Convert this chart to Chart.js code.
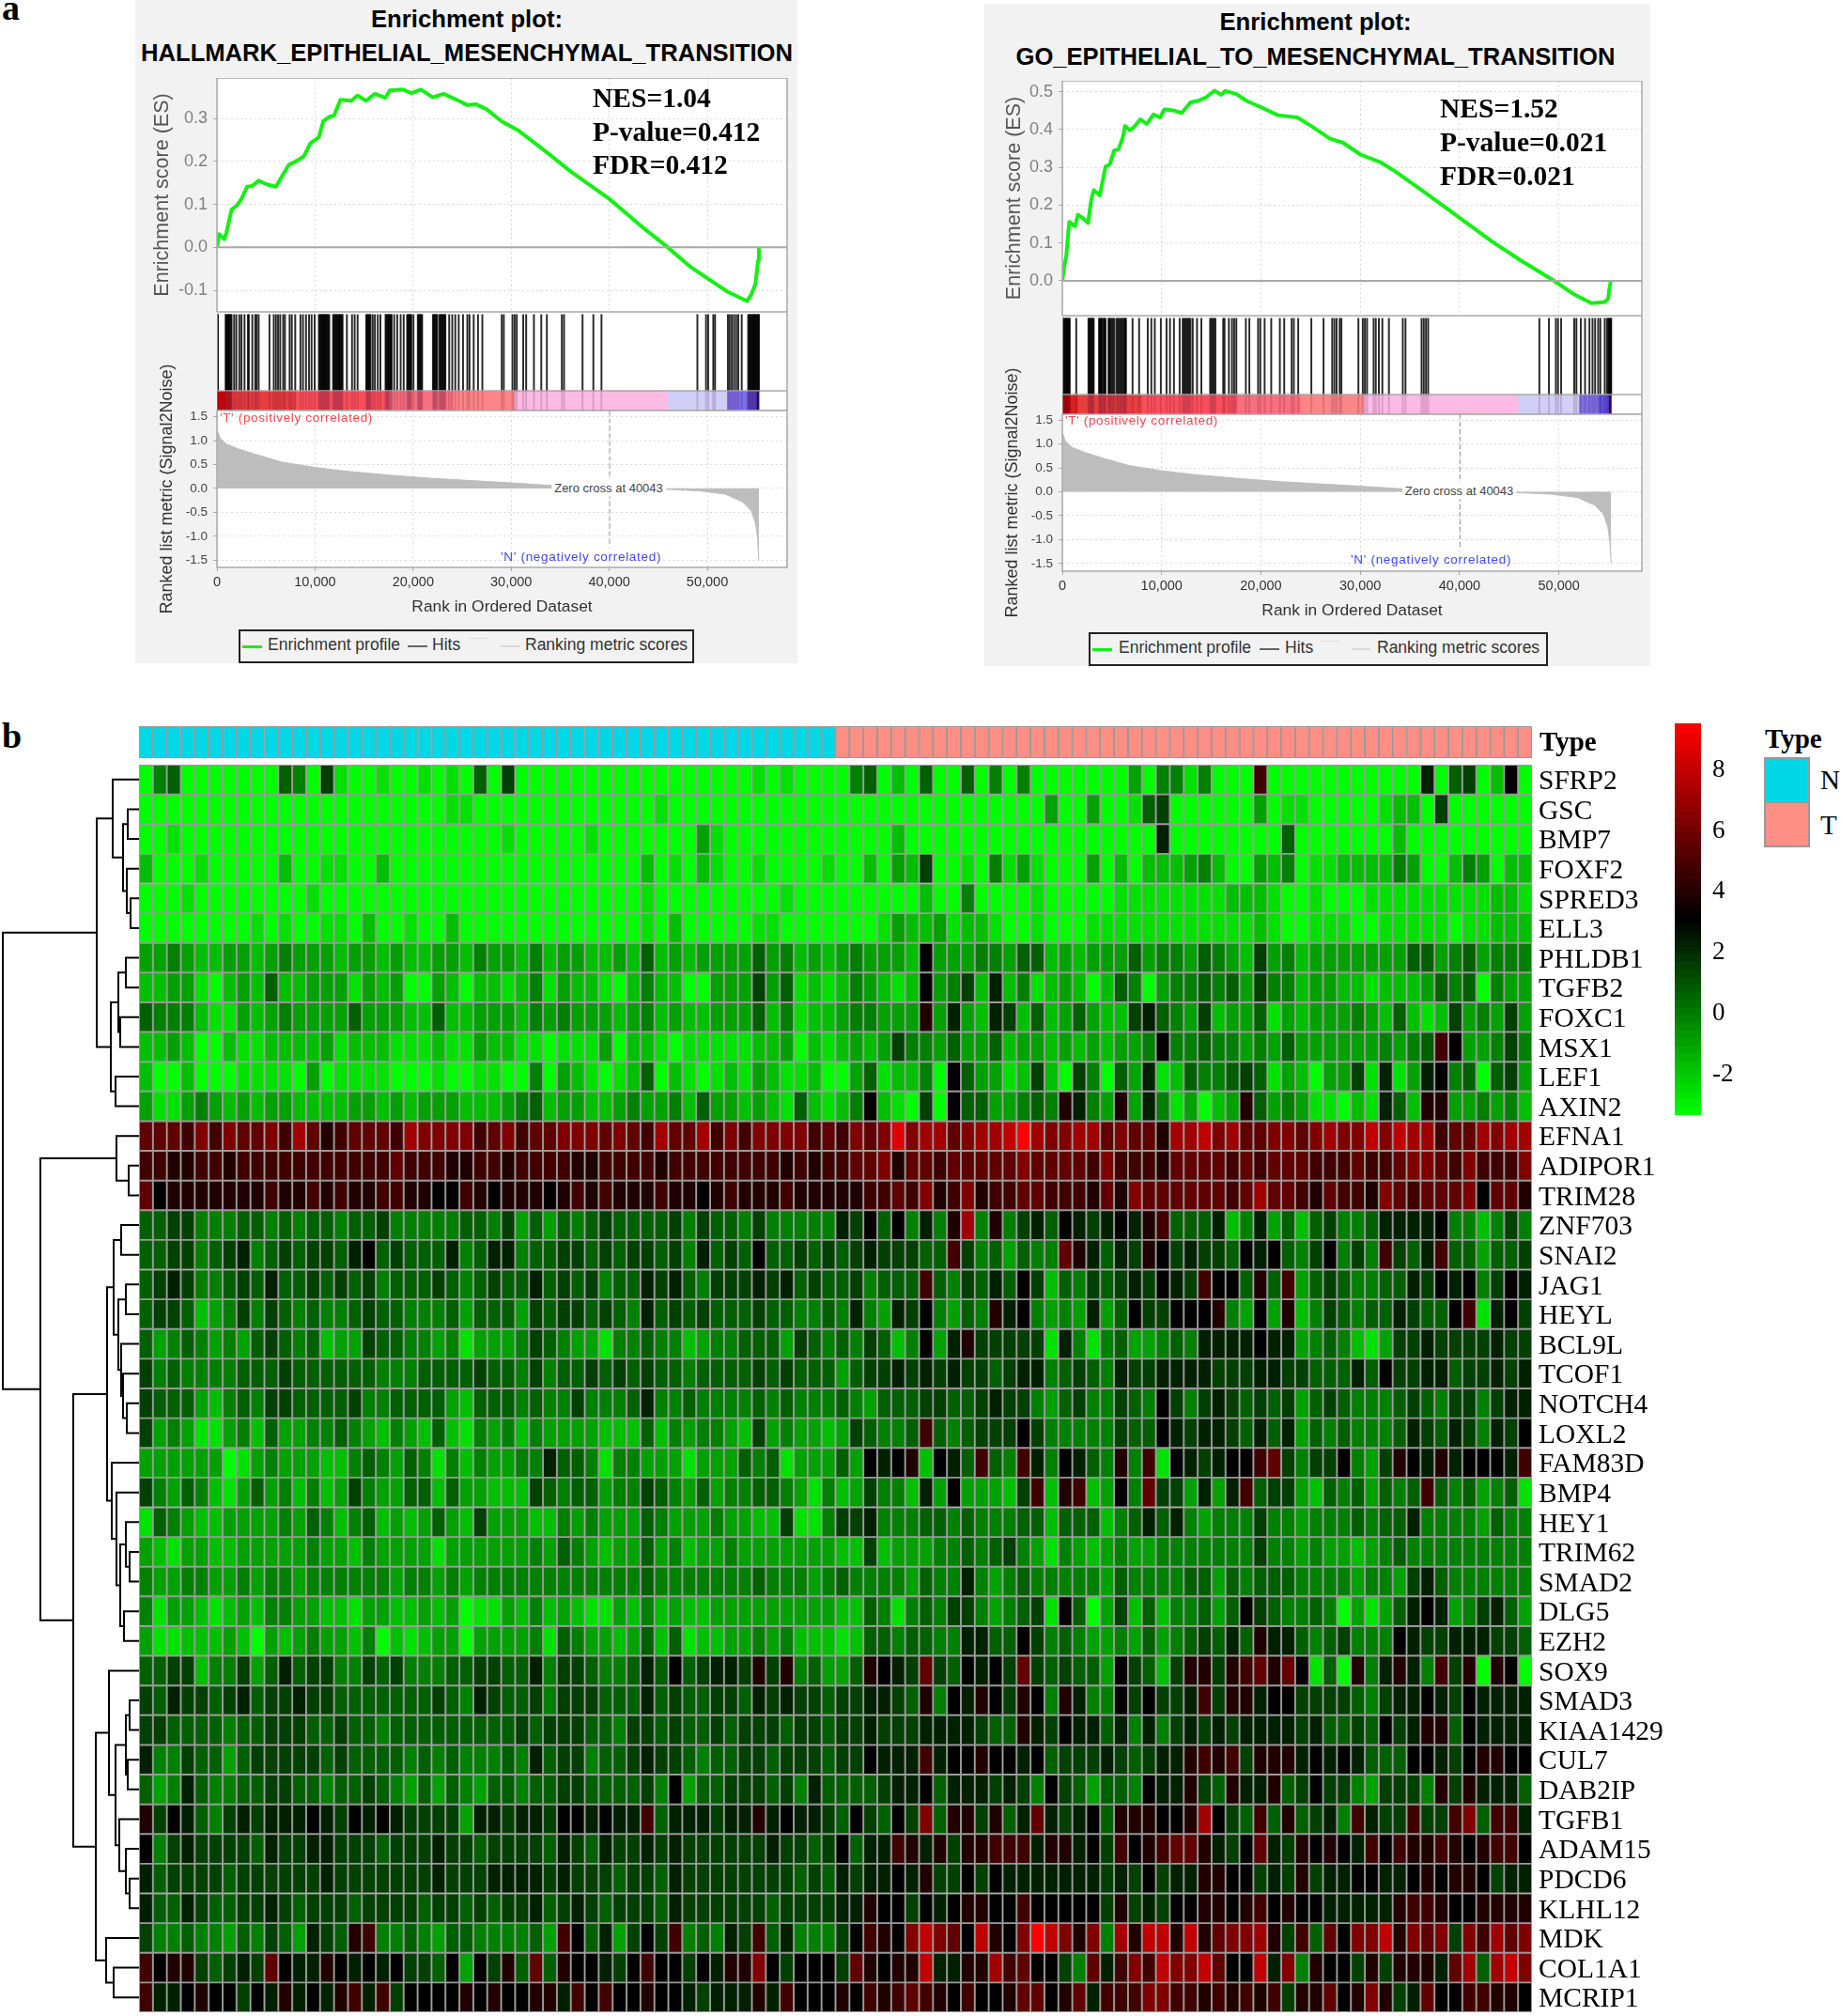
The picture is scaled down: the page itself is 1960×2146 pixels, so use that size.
<!DOCTYPE html>
<html><head><meta charset="utf-8">
<script src="https://cdn.jsdelivr.net/npm/chart.js@4/dist/chart.umd.min.js"></script>
<style>
html,body{margin:0;padding:0;background:#fff}
#page{position:relative;width:1960px;height:2146px;overflow:hidden;background:#fff}
canvas{position:absolute;display:block}
.t{position:absolute;white-space:nowrap;line-height:1}
</style></head><body><div id="page"></div>
<script>
/* ---------- panel a: GSEA values ---------- */
const rankTicks=[0,10000,20000,30000,40000,50000];
const esRanksA=[0,220,750,960,1490,2060,2500,3070,3600,4250,5130,6010,6670,7320,8200,8860,9520,10390,10830,11490,11930,12590,13680,14340,15220,16100,17190,17630,18950,19820,20790,22020,23110,24650,25530,26400,27500,29040,30790,33420,36050,40000,43070,45920,48330,50530,52060,54040,54470,54910,55180,55260];
const esValuesA=[0,.031,.019,.034,.088,.098,.113,.141,.143,.155,.146,.141,.167,.192,.202,.212,.242,.256,.293,.304,.306,.343,.341,.353,.341,.357,.348,.365,.367,.359,.367,.349,.357,.341,.331,.333,.321,.293,.271,.225,.177,.113,.053,.001,-.046,-.080,-.103,-.125,-.110,-.085,-.031,0];
const esRanksB=[0,176,395,615,702,1273,1580,2151,2590,2897,3161,3775,4346,4785,5224,5663,6102,6321,6760,7200,7858,8516,9175,9833,10272,11150,12028,12906,13784,14442,15320,15979,16418,17515,18613,19930,21686,23661,25197,26954,28270,30026,32000,33538,36172,39684,43196,46269,49342,51536,53292,54610,54960,55050,55224];
const esValuesB=[0,.037,.065,.133,.156,.144,.175,.164,.153,.212,.240,.226,.302,.308,.345,.348,.381,.410,.398,.406,.427,.415,.440,.432,.453,.451,.444,.472,.477,.485,.503,.492,.502,.494,.475,.460,.438,.432,.407,.376,.365,.334,.314,.289,.240,.173,.105,.052,.003,-.036,-.059,-.056,-.047,-.025,0];
const hitsA=[50,100,880,960,1050,1140,1230,1320,1400,1490,1750,1970,2280,2500,2810,3160,3250,3600,3900,4040,4250,5350,5790,6010,6230,6450,6750,6930,7410,7630,7980,8510,8770,9080,9390,9650,9960,10390,10480,10570,10660,10740,10830,10920,11010,11100,11180,11270,11360,11450,11840,11930,12020,12110,12190,12280,12370,12460,12540,12630,12720,12810,13250,13770,14040,14340,15220,15310,15400,15480,15570,15660,15880,16100,16400,16670,17190,17280,17370,17450,17540,17630,17720,17810,18070,18380,18730,19040,19390,19480,19570,19650,19740,19820,20040,20480,20570,20660,20750,20840,20920,22020,22110,22190,22280,22370,22460,22680,22770,22860,22940,23030,23120,23210,23290,23680,23990,24300,24650,25090,25530,25750,26180,26620,27060,29040,29250,30130,30350,30570,31230,31530,32320,33070,33640,35170,35390,37280,38380,39210,48990,49870,50090,50610,50790,52100,52280,52500,52720,52940,53160,53510,54170,54260,54340,54430,54520,54610,54700,54780,54870,54960,55050,55140,55220,55260];
const hitsB=[40,130,220,310,400,480,570,660,750,1400,2630,2720,2810,2900,2990,3070,3160,3690,3780,3860,3950,4040,4170,4260,4350,4650,4740,4830,4960,5090,5220,5440,5580,5710,5840,5970,6100,6230,6320,6410,7070,7730,8600,8960,9310,9920,10490,10840,11240,11810,12120,12250,12380,12510,12640,12770,12910,13130,13560,14000,14880,15010,15140,15280,15410,16200,16330,16770,17080,17300,17520,18480,18830,19710,19930,20370,21030,21900,22340,23090,23310,23750,25070,26300,27170,27390,27610,27920,28100,29810,30250,30460,30680,31340,31560,31870,32220,32880,34280,34550,36170,36390,36610,36830,48030,48990,49690,49910,50220,51540,51760,52200,52630,53070,53380,53640,53950,54170,54610,54830,54960,55050,55140,55220,55260];
const metricRanks=[0,300,960,2280,4470,6670,9960,13250,17630,22020,26400,30790,35170,40043,46140,49210,51840,53600,54470,54910,55130,55260];
const metricValues=[1.24,1.06,.93,.82,.68,.55,.44,.36,.28,.21,.16,.107,.05,0,-.02,-.05,-.12,-.28,-.46,-.72,-1.04,-1.5];
const stripEnds=[800,1500,8000,17500,24000,30300,45900,52000,54000,55000,55260];
const stripColors=['#c80000','#d82020','#e53e3e','#f8505a','#f8707e','#fc8686','#fbbbe3','#d0cff7','#7d70ea','#5a4fdf','#1c0aa0'];

/* ---------- panel b: heatmap values ---------- */
const genes=['SFRP2','GSC','BMP7','FOXF2','SPRED3','ELL3','PHLDB1','TGFB2','FOXC1','MSX1','LEF1','AXIN2','EFNA1','ADIPOR1','TRIM28','ZNF703','SNAI2','JAG1','HEYL','BCL9L','TCOF1','NOTCH4','LOXL2','FAM83D','BMP4','HEY1','TRIM62','SMAD2','DLG5','EZH2','SOX9','SMAD3','KIAA1429','CUL7','DAB2IP','TGFB1','ADAM15','PDCD6','KLHL12','MDK','COL1A1','MCRIP1'];
/* each letter is one read cell, decoded by levelValues */
const levelValues={a:-3.3,b:-2.6,c:-1.75,d:-1,e:-.15,f:.65,g:1.45,h:2.25,i:3.07,j:3.9,k:4.7,l:5.5,m:6.3,n:7.1,o:7.9,p:8.7,q:9.5};
const heatCodes=[
"aefaaaaaaa feagbaabaa babafagaaa aaaaaaaaaa aaaababaaa aefacafaaf aeaeaaaaaa adaeebeaaa kaaaaaaaaa aahafgacia",
"aaaaaaaaaa aaaaaaaaaa aabbaaaaaa aaaaaaabaa aaaaaaaaaa aaaaaaaaaa aaaaadaada abfgaaaaaa dabbaaaaab ccagaaaaaa",
"aabaaaaaaa aaaaaaaaaa aaaaaabaaa aabaaaaaaa dbaaaaaaaa aaaacaaaaa aaaaaaaaaa aaahaaaaaa aafaaaaaaa caaaaaaaaa",
"caaabaaaaa caabbaacaa aaaaaaaaaa aaaaaacaba cbaabaaaab aacadcgaab aebdbaaada cacccdecaa dceabbcccc edaacedacc",
"aaabaaaaaa aabaaaaaaa aaaaaaaaaa aaaaaabaaa aaaaaabaaa aaaaaacaae aaaabaaaaa bbbbbbbbcc cbaabaaabb bbbbbbbccb",
"aaaaaaaaba baabbacaab aacaaaaaaa aaaaaabaca aaaabbaaaa aaabdccdbc cbaabaaabb bbbbbbbbbb cbaabbbaab bbbbabbccc",
"ddedccddcd edddcddcdc cddceddcec ddccdcfcdc ddddfdecdc dedddciddd eedffcdcdd dfdeedfedc gdecdddddd dffdefdeee",
"ccddbacdcf ccdddbdcda adcaccbceb dccbacecca adddgdfbcb cedcbcideg chcebcdcac feadeefefd geecddccbc ccdfefaedd",
"feeecbbdcd eddddfdddc cfccdddced edddcdecdc cdddfcebcc deedddjdhd chgcfcdfdc cghfedgcdd fbdcdddedc fcbcgdedgd",
"ccdcaacbbc cccdbcccbb bcbbdccbba bbbdaccbab bbbbccdacb cdcdgeedfd dfcddcdcdc ddeieefeed edfdddddde defkiddege",
"caacaaabbb badabbbbaa abaabbaaea dcbabcfacb abcbdcbbca adfbcceaif ddbcgcagea fdhbcfeefg fbdcaddgbh bdhiefafgd",
"dbbdedcdcd dccccddcdc dddcccdefc ddccdeddec fddcdcbfcb ceicbagaif fddefejhed jdhebdacdj fdedbbacbh fcjjddedec",
"lllkmkmllm knljklllkn mmmmklmkll mmmlmlknll nkmkmmmmkl kmlmpmnnlm nnoqnmmnnl mlljnnomnl lmmlmnmmom onnkllnmnn",
"kkjjkkjkkk kkkkkkkklk kkjjkkjkkk kjjkkkkjkk kkkkkkjkjk kllmjllkll lllmllllkm kkkjllllkl klllkkklkk lmmlkmkkkm",
"lijjjjjjjk jjkjkjjkkj jiikjijjji jkjkjjjkjj ijkjjjkjjj jjkklkmjkm jkkllkkkjl jmllllllkl nllkjlkkjm lklllmillj",
"ffggeeeffe feffeffgee eeeffegdfd fefgffffge gffegeeeee hgifiehejn ejeghfihgh ihjkfffhce hdfcfgeefh hhhieecege",
"ffggefghef gfggfhifgf ffhefhheff ggfgfggfge hfgfiffgfg fghgggffkg efdfeeljhf hgjighggfi hifegiegek gfhkffdffg",
"fghgeefgfh ffgfgfgeff fgfefgffhf gfgeffhghf eggghghfgf fgefffkfeg fhfigcfegf ghgihgkiif jfkdfgfeef fhgihiegih",
"fggfcdegeg fefeefgffe eefdfffdgf ggfgfehfgf gfffgffeef ehedhgiedf ejhiededhd figgiiijed idjcegfeff hgffikbhig",
"fdefededfg fefcddgffe edebdddegf eddbeefeec deefffdgfe fegfceidhj gggggbhebe fddefehhhh ihhdefecbd gghgggghgg",
"gefeeeefff gffffffeee ffffgffege ffgfgfgffe ffffgfgfff dfgghghghg gfghhefgfe hgghhhhggg hhggfffhfi gghhfgghgh",
"gfffdcefeg gffffgeeff ffdcfffefe egeeefheef eeeefefeee fedfffggff ghggedfgee gfeigeghgf gfgdfgfeee fgfeggeghh",
"gdedbbdecf ddeefedced cfcbedeced dddcccfced eedcgdeddc dgfeefkfef gggigeeeee gffihghhgf hfhdfefeee fhgfhgehgi",
"ddddddabde dddccefedf ebeceddeeh ffebeedddb dddfefbddd fdihijcihf kfekheihfe jekbihghii klgeggiedg jihjhiiihk",
"gedfecbdfd ececdgeddf fcfddcccgf effdeegfed fdeeffedbe cdgeechdid ddcgkcjkcd ielggdhdhk fggdcfefdf efkfefdefb",
"bfedccdddd edfecefcdc dfdcgdddcc ededddfedd deddccgbbe ggheeeffef eeeffcfffc efhfhedeee geedeeefef fheeeedfee",
"dcbddccddd ddeddceddd dbdddddded fedcddfdec ddeddddddd ccgcdddeef efgedbedcd eddeeeeeee geededdcde feeeeeeeee",
"eddeeddede edeeeeeede ededeeeeee eeeeeefeee eeeefeeede feeeedfeeh edefeeeeed feeeeffdfe fffeeeedee dghfeeeeee",
"ebddcbcdce eddccbddcc dcdabbdcec dcbbdcecdc cddddddddd ccfebefegg edefgbifad gcfceefdfi gfeefeadbd fhihdeghfd",
"dbbcccdcad cdeddceacb cddaddddeb feddcdfcfb ccddedeccc bcffeffeeh hffigefedd edfdefgfhf jhhfefgeee ihgghhhggf",
"ffggceegdf hfggeegfge eeffggffhe ggfeefhfif ghhgjgjefd dfjihglgfi higlgfgffd igfcgjjgjk ljlibfajeh jhekgjajia",
"gfhggfghfg ghggffffff fgfehgffge gggfffhfgf fggfhghggf gghhgfjeih jigjiejhee igigghkgjj hiiggggfeg hhihgihhhh",
"ggffffeffg ggffgffeff fffffffgfg ggffeggfgf fgfgggfggf gghggghhhh gffjhgihhf heheghghgh hhhghffgfi ghjjfihhhh",
"heegffdfgg gggfgffffe fefeeefehf ggeffghggf effggfgggf ggihhhkhii jiihifgggh gfghhjkjkg jjjhihihff fiihgijjii",
"fdehfeeffg gffeffgfed fdfedffeff ggffffgeid ffgggfgehf fffghhifhh hghgeigfdf feihhjgfjh hjfgiggedg ggejgjhhhf",
"jgihfeghgh hhihgihihg gggdhhghhg iihihhkfhh hghhjhihhg figfigmfjj gjfhlhghif jjjiijnigf kfjfghekhg gkggkmfkkh",
"ieghggggfh gghhgggfgg ghggfggggf hgfhgghghg ggggghggfg ifhhkjhjgj jkkkhjjhig kijklljhgi lhgjijihki kjjkjijkki",
"hfggggfggg ggghgggggg ghggghhhhg hgggfggfhg gggggggfgf hghhihjggi gihhhhhhhg hgighhjjii ghgjghhiih hijijjighh",
"hffhgffggh gfgggfgggg fggfgfgghf ghgfgggfhg gggggfgggg hhjiigihij jiikiiiiig jghgiijjij kijiihhhhh jkkjiijjjj",
"geefeedfeg fdhgfjkeef edffeeeefd kifhdgigke fehgkfheee gikjimomli ojimqomjme njoojojlmm njgkflimmo jmlmgmknlm",
"kijjgfghgl ihhjihihig gfidigjflf jiihgikiig ihjjmigiii gljijjohhj jnkliigelh kmkommolii ohmejiigjg jjjhlnfnom",
"khhijiigih jhihjkhkgi iiijijiijj hkikiijiih ghhhjhkiii jikjklkjik iijllijlhk kkmmkkjkjk jkgjjlijmj ghliikkjji"
];
const sampleTypes=['N','T'];
const sampleTypeCounts=[50,50];
const typeColors=['#00d8e6','#ff8f85'];
/* merge heights of the gene dendrogram: [height, left, right]; 0 is the next leaf */
const rowTree=[145,
 [45,[28,0,[17,[12,0,0],[13,0,[9,0,0]]]],[30,[22,[14,0,0],[20,0,0]],[25,0,0]]],
 [105,[24,0,[11,0,0]],
  [70,
   [34,[27,[19,0,0],[22,[14,0,0],[19,0,[17,0,[13,0,0]]]]],
       [29,0,[24,0,[20,[14,0,[10,0,0]],[16,0,0]]]]],
   [46,[32,0,[25,[14,[10,0,0],[12,0,0]],[21,0,[14,0,[10,0,0]]]]],[35,0,[27,0,0]]]
  ]]];
const colorbarBreaks=[-3.36,-3.1,-2.85,-2.6,-2.35,-2.1,-1.85,-1.6,-1.35,-1.1,-.85,-.6,-.35,-.1,.15,.4,.65,.9,1.15,1.4,1.65,1.9,2.15,2.4,2.65,2.9,3.15,3.4,3.65,3.9,4.15,4.4,4.65,4.9,5.15,5.4,5.65,5.9,6.15,6.4,6.65,6.9,7.15,7.4,7.65,7.9,8.15,8.4,8.65,8.9,9.15,9.5];

/* ---------- helpers ---------- */
const SANS='"Liberation Sans",Arial,sans-serif', SERIF='"Liberation Serif","Times New Roman",serif';
Chart.defaults.font.family=SANS;
Chart.defaults.animation=false;
const page=document.getElementById('page');
function div(x,y,w,h,css){const d=document.createElement('div');d.style.cssText=`position:absolute;left:${x}px;top:${y}px;width:${w}px;height:${h}px;${css||''}`;page.appendChild(d);return d;}
function text(s,x,y,font,color,anchor,extra){const d=document.createElement('div');d.className='t';d.textContent=s;
 const tx=anchor==='c'?'-50%':'0';d.style.cssText+=`left:${x}px;top:${y}px;font:${font};color:${color||'#000'};transform:translate(${tx},-50%);${extra||''}`;page.appendChild(d);return d;}
function canvas(x,y,w,h){const c=document.createElement('canvas');c.width=w;c.height=h;c.style.left=x+'px';c.style.top=y+'px';c.style.width=w+'px';c.style.height=h+'px';page.appendChild(c);return c.getContext('2d');}
const base={responsive:false,animation:false,devicePixelRatio:1,layout:{padding:0,autoPadding:false},plugins:{legend:{display:false},tooltip:{enabled:false},title:{display:false}}};
const frame={id:'frame',beforeDraw(ch){const a=ch.chartArea,c=ch.ctx;c.save();c.fillStyle='#fff';c.fillRect(a.left,a.top,a.width,a.height);c.restore();},
 afterDraw(ch){const a=ch.chartArea,c=ch.ctx;c.save();c.strokeStyle='#a9a9a9';c.lineWidth=1.5;c.strokeRect(a.left,a.top,a.width,a.height);c.restore();}};
const pts=(xs,ys)=>xs.map((x,i)=>({x,y:ys[i]}));
const noPad=s=>{s.paddingTop=s.paddingBottom=s.paddingLeft=s.paddingRight=0;};
const fixW=w=>s=>{s.width=w;noPad(s);}, fixH=h=>s=>{s.height=h;noPad(s);};
const setRankTicks=s=>{s.ticks=rankTicks.map(v=>({value:v}));};
const gridDash={color:'#d9d9d9',lineWidth:1};

function hitChart(x,y,w,h,hits,xmax,color,thick,top){
 new Chart(canvas(x,y,w,h),{type:'bar',data:{datasets:[{data:hits.map(r=>({x:r,y:1})),backgroundColor:color,barThickness:thick,borderWidth:0}]},
  options:{...base,scales:{x:{type:'linear',offset:false,min:0,max:xmax,display:false},y:{min:0,max:top,display:false}}}});
}
function gsea(g){
 const L=g.panel[0],W=g.plotR+3-L,yW=g.plotL-L;
 div(g.panel[0],g.panel[1],g.panel[2],g.panel[3],'background:#f2f2f2');
 /* enrichment score */
 new Chart(canvas(L,g.top,W,g.esB-g.top),{type:'scatter',plugins:[frame],
  data:{datasets:[
   {data:[{x:0,y:0},{x:g.xmax,y:0}],showLine:true,borderColor:'#a8a8a8',borderWidth:2,pointRadius:0},
   {data:pts(g.esR,g.esV),showLine:true,borderColor:'#14f014',borderWidth:4,pointRadius:0,borderJoinStyle:'round'}]},
  options:{...base,layout:{padding:{right:3,left:0,top:0,bottom:0},autoPadding:false},scales:{
   x:{type:'linear',min:0,max:g.xmax,afterFit:fixH(0),afterBuildTicks:setRankTicks,ticks:{display:false},grid:{...gridDash,drawTicks:false},border:{display:false,dash:[2,3]}},
   y:{min:g.esMin,max:g.esMax,afterFit:fixW(yW),ticks:{stepSize:.1,includeBounds:false,callback:v=>v.toFixed(1),color:'#808080',font:{size:18},padding:6},grid:{...gridDash,tickLength:4,tickColor:'#a9a9a9'},border:{display:false,dash:[2,3]},
      title:{display:true,text:'Enrichment score (ES)',color:'#555',font:{size:21.5},padding:{top:g.esPad,bottom:0}}}}}});
 /* colour strip */
 const sw=g.plotR-g.plotL, stripH=g.stripB-g.hitB;
 const widths=stripEnds.map((e,i)=>e-(i?stripEnds[i-1]:0));
 new Chart(canvas(g.plotL,g.hitB,sw+1,stripH),{type:'bar',plugins:[frame],
  data:{labels:[''],datasets:widths.map((v,i)=>({data:[v],backgroundColor:stripColors[i],borderWidth:0,barPercentage:1,categoryPercentage:1}))},
  options:{...base,indexAxis:'y',layout:{padding:{right:1},autoPadding:false},scales:{x:{stacked:true,type:'linear',min:0,max:g.xmax,display:false},y:{stacked:true,display:false}}}});
 hitChart(g.plotL,g.hitB,sw,stripH,g.hits,g.xmax,'rgba(70,0,50,.16)',1.4,1);
 /* hits */
 new Chart(canvas(g.plotL,g.esB,sw+1,g.hitB-g.esB),{type:'bar',plugins:[frame],
  data:{datasets:[{data:g.hits.map(r=>({x:r,y:1})),backgroundColor:'rgba(0,0,0,.84)',barThickness:1.3,borderWidth:0}]},
  options:{...base,layout:{padding:{right:1},autoPadding:false},scales:{x:{type:'linear',offset:false,min:0,max:g.xmax,display:false},y:{min:0,max:1.035,display:false}}}});
 /* ranked metric: the canvas reaches above the plot so the long axis title is not cut */
 const upper=50;
 new Chart(canvas(L,g.stripB-upper,W,upper+g.metB-g.stripB+60),{type:'scatter',plugins:[frame],
  data:{datasets:[
   {data:pts(metricRanks,metricValues),showLine:true,borderColor:'#bdbdbd',backgroundColor:'#bdbdbd',borderWidth:1,fill:'origin',pointRadius:0},
   {data:[{x:40043,y:1.62},{x:40043,y:-1.2}],showLine:true,borderColor:'#9a9a9a',borderWidth:1,borderDash:[5,3],pointRadius:0}]},
  options:{...base,layout:{padding:{right:3,left:0,top:upper,bottom:0},autoPadding:false},scales:{
   x:{type:'linear',min:0,max:g.xmax,afterFit:fixH(60),afterBuildTicks:setRankTicks,ticks:{color:'#333',font:{size:14.5},padding:3,maxRotation:0},grid:{...gridDash,tickLength:4,tickColor:'#a9a9a9'},border:{display:false,dash:[2,3]},
      title:{display:true,text:'Rank in Ordered Dataset',color:'#333',font:{size:17.4},padding:{top:0,bottom:7}}},
   y:{min:g.metMin,max:g.metMax,afterFit:fixW(yW),ticks:{stepSize:.5,includeBounds:false,callback:v=>v.toFixed(1),color:'#444',font:{size:13.5},padding:6},grid:{...gridDash,tickLength:4,tickColor:'#a9a9a9'},border:{display:false,dash:[2,3]},
      title:{display:true,text:'Ranked list metric (Signal2Noise)',color:'#333',font:{size:18},padding:{top:g.metPad,bottom:0}}}}}});
 /* texts */
 text('Enrichment plot:',g.titleX,g.titleY[0],`bold 25.7px ${SANS}`,'#000','c');
 text(g.name,g.titleX,g.titleY[1],`bold 25.6px ${SANS}`,'#000','c');
 g.stats.forEach((s,i)=>text(s,g.statX,g.statY[i],`bold 29.5px ${SERIF}`,'#000'));
 text("'T' (positively correlated)",g.tLab[0],g.tLab[1],`13.5px ${SANS}`,'#f5454f','l','letter-spacing:.65px');
 text("'N' (negatively correlated)",g.nLab[0],g.nLab[1],`13.5px ${SANS}`,'#4646f0','l','letter-spacing:.7px');
 text('Zero cross at 40043',g.zero[0],g.zero[1],`13px ${SANS}`,'#444','c','background:#fff;padding:2px 3px');
 /* legend */
 const b=g.box;div(b[0],b[1],b[2],b[3],'box-sizing:border-box;border:2px solid #222;background:#f2f2f2');
 const my=b[1]+b[3]/2;
 div(g.lg[0],my-1.5,21,3,'background:#14f014');
 text('Enrichment profile',g.lg[1],my-2,`17.5px ${SANS}`,'#333');
 div(g.lg[2],my-1,21,2,'background:#666');
 text('Hits',g.lg[3],my-2,`17.5px ${SANS}`,'#333');
 div(g.lg[4],my-9,19,1,'background:#dcdcdc');
 div(g.lg[5],my-1,20,2,'background:#d8d8d8');
 text('Ranking metric scores',g.lg[6],my-2,`17.5px ${SANS}`,'#333');
}
gsea({panel:[144,0,705,706],plotL:231,plotR:838,top:83,esB:332,hitB:416,stripB:437,metB:604,xmax:58140,esMin:-.15,esMax:.394,metMin:-1.65,metMax:1.63,esPad:16,metPad:23,
 esR:esRanksA,esV:esValuesA,hits:hitsA,name:'HALLMARK_EPITHELIAL_MESENCHYMAL_TRANSITION',titleX:497,titleY:[19.5,56],
 stats:['NES=1.04','P-value=0.412','FDR=0.412'],statX:631,statY:[104,140,175],tLab:[234,444],nLab:[533,592],zero:[648,519],
 box:[254,670,485,36],lg:[258,285,434,460,500,533,559]});
gsea({panel:[1048,4,709,705],plotL:1131,plotR:1748,top:86,esB:336,hitB:419.5,stripB:441,metB:608,xmax:58350,esMin:-.092,esMax:.529,metMin:-1.66,metMax:1.62,esPad:19,metPad:19,
 esR:esRanksB,esV:esValuesB,hits:hitsB,name:'GO_EPITHELIAL_TO_MESENCHYMAL_TRANSITION',titleX:1400.5,titleY:[23,60],
 stats:['NES=1.52','P-value=0.021','FDR=0.021'],statX:1533,statY:[115,151,186.5],tLab:[1134,447],nLab:[1438,595],zero:[1553.5,522],
 box:[1158.5,673,489,36],lg:[1163,1191,1341,1368,1407,1439,1466]});
text('a',2,8,`bold 38px ${SERIF}`,'#000');
text('b',2,783,`bold 38px ${SERIF}`,'#000');

/* ---------- heatmap ---------- */
const vMin=-3.36,vMax=9.5,vMid=3.07;
function levelColor(v){ /* ramp that is black at vMid, as on the colour bar */
 return v<vMid?`rgb(0,${Math.round(255*(vMid-v)/(vMid-vMin))},0)`:`rgb(${Math.round(255*(v-vMid)/(vMax-vMid))},0,0)`;}
const heat=heatCodes.map(s=>[...s.replace(/ /g,'')].map(c=>levelValues[c]));
const nSamples=heat[0].length;
const sampleLabels=heat[0].map((_,i)=>'S'+(i+1));
const types=sampleTypes.flatMap((t,i)=>Array(sampleTypeCounts[i]).fill(t));
const cellOpts={borderWidth:1.3,borderColor:'#9a9a9a',barPercentage:1,categoryPercentage:1,borderSkipped:false};
const heatX=148,heatR=1631,heatT=814,heatB=2142,heatCW=1652;
new Chart(canvas(heatX,heatT,heatCW,heatB-heatT),{type:'bar',
 data:{labels:genes,datasets:sampleLabels.map((name,c)=>({label:name,data:genes.map(()=>1),cellValues:heat.map(r=>r[c]),
   backgroundColor:heat.map(r=>levelColor(r[c])),...cellOpts}))},
 options:{...base,indexAxis:'y',scales:{
  x:{stacked:true,type:'linear',min:0,max:nSamples,display:false},
  y:{stacked:true,position:'right',afterFit:fixW(heatCW-(heatR-heatX)),grid:{display:false,drawTicks:false},border:{display:false},
     ticks:{autoSkip:false,padding:7,labelOffset:2.5,color:'#000',font:{family:SERIF,size:29.5}}}}}});
/* annotation bar */
new Chart(canvas(heatX,773,heatCW,34),{type:'bar',
 data:{labels:['Type'],datasets:types.map((t,c)=>({label:sampleLabels[c],data:[1],backgroundColor:typeColors[sampleTypes.indexOf(t)],...cellOpts}))},
 options:{...base,indexAxis:'y',scales:{
  x:{stacked:true,type:'linear',min:0,max:nSamples,display:false},
  y:{stacked:true,position:'right',afterFit:fixW(heatCW-(heatR-heatX)),grid:{display:false,drawTicks:false},border:{display:false},
     ticks:{padding:8,labelOffset:2,color:'#000',font:{family:SERIF,size:29,weight:'bold'}}}}}});
/* dendrogram */
let leaf=0;const links=[];
function walk(n){if(n===0){leaf++;return{h:0,y:leaf-.5};}
 const a=walk(n[1]),b=walk(n[2]);links.push([{x:a.h,y:a.y},{x:n[0],y:a.y},{x:n[0],y:b.y},{x:b.h,y:b.y}]);return{h:n[0],y:(a.y+b.y)/2};}
walk(rowTree);
new Chart(canvas(0,heatT,heatX,heatB-heatT),{type:'scatter',
 data:{datasets:links.map(l=>({data:l,showLine:true,borderColor:'#000',borderWidth:2,pointRadius:0,borderCapStyle:'square'}))},
 options:{...base,scales:{x:{type:'linear',reverse:true,min:0,max:heatX,display:false},y:{type:'linear',reverse:true,min:0,max:genes.length,display:false}}}});
/* colour bar */
new Chart(canvas(1783,766,90,425),{type:'bar',
 data:{labels:[''],datasets:colorbarBreaks.slice(1).map((hi,i)=>{const lo=colorbarBreaks[i];return{data:[[lo,hi]],backgroundColor:levelColor((lo+hi)/2),borderWidth:0,barPercentage:1,categoryPercentage:1};})},
 options:{...base,layout:{padding:{top:4,bottom:4},autoPadding:false},scales:{x:{stacked:true,display:false},
  y:{position:'right',min:vMin,max:vMax,afterFit:fixW(62),grid:{display:false,drawTicks:false},border:{display:false},
     ticks:{stepSize:2,includeBounds:false,padding:12,labelOffset:1,color:'#000',font:{family:SERIF,size:27}}}}}});
/* type legend */
text('Type',1879,786,`bold 29px ${SERIF}`,'#000');
sampleTypes.forEach((t,i)=>{div(1878,806+48*i,49,48,`box-sizing:border-box;background:${typeColors[i]};border:2px solid #999;${i?'border-top-width:1px':'border-bottom-width:1px'}`);
 text(t,1938,830+48*i,`29px ${SERIF}`,'#000');});
</script></body></html>
